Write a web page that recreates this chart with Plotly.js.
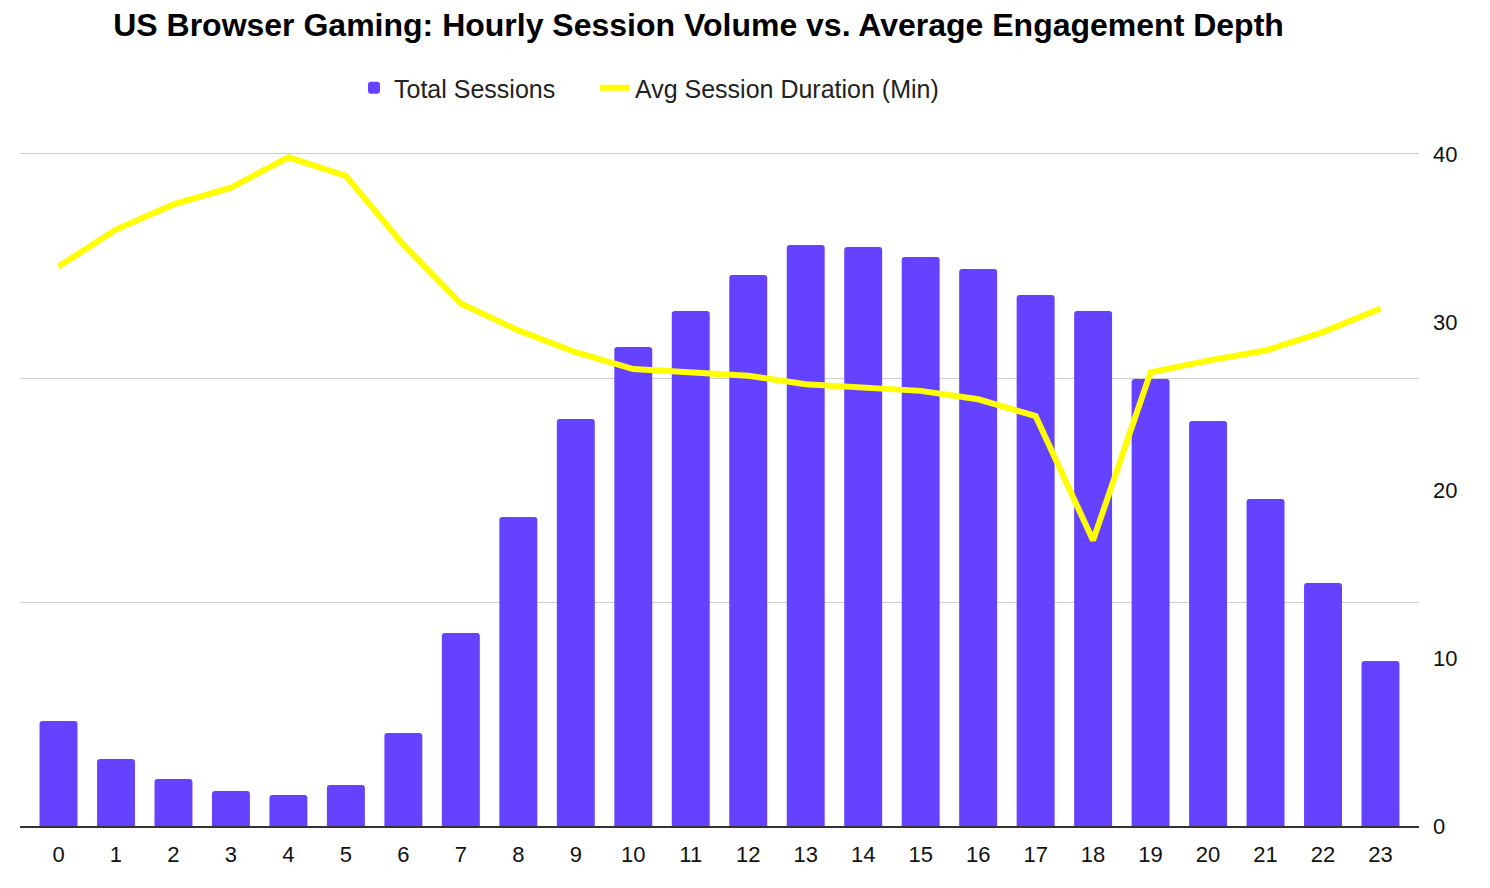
<!DOCTYPE html>
<html>
<head>
<meta charset="utf-8">
<script src="https://cdn.plot.ly/plotly-3.0.1.min.js"></script>
<style>html,body{margin:0;padding:0;background:#fff;}#chart{width:1490px;height:888px;}</style>
</head>
<body>
<div id="chart"></div>
<script>
const hours = [0,1,2,3,4,5,6,7,8,9,10,11,12,13,14,15,16,17,18,19,20,21,22,23];
const hourLabels = hours.map(String);
const totalSessions = [4690,2990,2100,1560,1380,1830,4150,8620,13800,18170,21380,22990,24600,25940,25850,25400,24870,23700,22990,19950,18080,14600,10850,7370];
const avgDuration = [33.3,35.5,37.0,38.0,39.8,38.7,34.6,31.1,29.5,28.2,27.2,27.0,26.8,26.3,26.1,25.9,25.4,24.4,17.0,27.0,27.7,28.3,29.4,30.8];
const sessionGridVals = [10000, 20000, 30000];

const traces = [
  {
    type: 'bar', name: 'Total Sessions\u00a0\u00a0\u00a0\u00a0\u00a0', x: hours, y: totalSessions,
    marker: {color: '#6442FF', cornerradius: 3},
    yaxis: 'y', hoverinfo: 'x+y'
  },
  {
    type: 'scatter', mode: 'lines', name: 'Avg Session Duration (Min)', x: hours, y: avgDuration,
    line: {color: '#FFFF00', width: 6},
    yaxis: 'y2'
  }
];

const layout = {
  width: 1490, height: 888,
  paper_bgcolor: '#ffffff', plot_bgcolor: '#ffffff',
  font: {family: 'Liberation Sans, Arial, sans-serif', color: '#111', size: 22},
  title: {
    text: '<b>US Browser Gaming: Hourly Session Volume vs. Average Engagement Depth</b>',
    font: {size: 32, color: '#000'},
    x: 698.5/1490, xref: 'container', xanchor: 'center',
    y: 1 - 25/888, yref: 'container', yanchor: 'middle'
  },
  margin: {l: 20, r: 71, t: 152, b: 62},
  bargap: 0.34,
  showlegend: true,
  legend: {
    orientation: 'h', xref: 'container', yref: 'container',
    x: 649/1490, xanchor: 'center', y: 1 - 88/888, yanchor: 'middle',
    font: {size: 25, color: '#222'}, traceorder: 'normal'
  },
  xaxis: {
    range: [-0.67, 23.67], tickmode: 'array', tickvals: hours, ticktext: hourLabels,
    showgrid: false, zeroline: false, showline: true, linecolor: '#333', linewidth: 2,
    ticks: '', ticklabelstandoff: 8, tickfont: {size: 22, color: '#111'}, fixedrange: true
  },
  yaxis: {
    range: [0, 30089], tickmode: 'array', tickvals: sessionGridVals, showticklabels: false, showgrid: true,
    gridcolor: '#cccccc', gridwidth: 1, zeroline: false, showline: false, fixedrange: true
  },
  yaxis2: {
    range: [0, 40.119], tickmode: 'array', tickvals: [0, 10, 20, 30, 40], overlaying: 'y', side: 'right', showgrid: false,
    zeroline: false, showline: false, ticks: '', ticklabelstandoff: 13,
    tickfont: {size: 22, color: '#111'}, fixedrange: true
  }
};

Plotly.newPlot('chart', traces, layout, {displayModeBar: false, responsive: false});
</script>
</body>
</html>
